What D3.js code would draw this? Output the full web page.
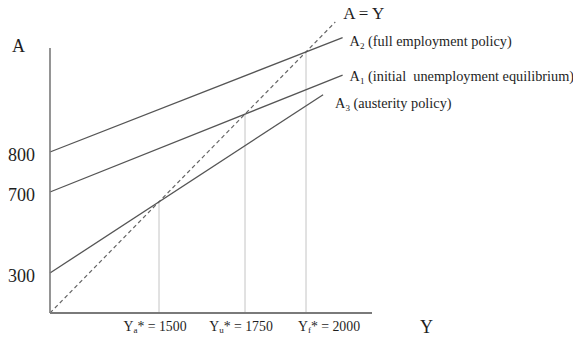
<!DOCTYPE html>
<html>
<head>
<meta charset="utf-8">
<script src="https://cdn.jsdelivr.net/npm/d3@7"></script>
<style>
  html, body { margin: 0; padding: 0; background: #fff; }
  svg { display: block; }
  text { font-family: "Liberation Serif", "Times New Roman", serif; fill: #1e1e1e; }
</style>
</head>
<body>
<svg id="chart" width="573" height="341"></svg>
<script>
// Aggregate demand schedules A = A0 + c·Y and their equilibria on the 45° line
const curveSubs = ["2", "1", "3"];
const curveDescs = ["(full employment policy)", "(initial  unemployment equilibrium)", "(austerity policy)"];
const intercepts = [800, 700, 300];
const equilibria = [2000, 1750, 1500];
const curveEnds = [2150, 2150, 2070];

// Axis ticks
const aTicks = [300, 700, 800];
const yTicks = [1500, 1750, 2000];
const yTickSubs = ["a", "u", "f"];
const diagonalEnd = 2120;

const svg = d3.select("#chart");

// The diagram is drawn schematically (not to scale), so the scales are piecewise
const x = d3.scaleLinear().domain([0, 1500, 1750, 2000]).range([50, 159, 245, 306]);
const aAxis = d3.scaleLinear().domain([0, 300, 700, 800]).range([313, 273, 192, 152]);
const originY = 313;
const diagSlope = 1.02;
// vertical position of points on the A = Y line
const diag = d3.scaleLinear().domain(x.domain())
  .range(x.range().map(px => originY - (px - x(0)) * diagSlope));

const g = svg.append("g");

// Guide lines from each equilibrium down to the Y axis
g.selectAll("line.guide").data(yTicks).join("line")
  .attr("class", "guide")
  .attr("x1", d => x(d)).attr("x2", d => x(d))
  .attr("y1", originY).attr("y2", d => diag(d))
  .attr("stroke", "#c4c4c4").attr("stroke-width", 1);

// 45° line A = Y
g.append("line")
  .attr("x1", x(0)).attr("y1", diag(0))
  .attr("x2", x(diagonalEnd)).attr("y2", diag(diagonalEnd))
  .attr("stroke", "#666").attr("stroke-width", 1.2)
  .attr("stroke-dasharray", "4,3");

svg.append("text")
  .attr("x", x(diagonalEnd) + 8).attr("y", diag(diagonalEnd) - 3)
  .attr("font-size", 17)
  .text("A = Y");

// Demand schedules: straight through the intercept and the equilibrium point
const curves = intercepts.map((a0, i) => {
  const p0 = [x(0), aAxis(a0)];
  const p1 = [x(equilibria[i]), diag(equilibria[i])];
  const slope = (p1[1] - p0[1]) / (p1[0] - p0[0]);
  const xe = x(curveEnds[i]);
  return { p0, end: [xe, p0[1] + slope * (xe - p0[0])], sub: curveSubs[i], desc: curveDescs[i] };
});

g.selectAll("line.curve").data(curves).join("line")
  .attr("class", "curve")
  .attr("x1", d => d.p0[0]).attr("y1", d => d.p0[1])
  .attr("x2", d => d.end[0]).attr("y2", d => d.end[1])
  .attr("stroke", "#555").attr("stroke-width", 1.3);

const labelOffsets = [[7, 8], [7, 6], [12, 13]];
const curveLabels = svg.selectAll("text.curve").data(curves).join("text")
  .attr("class", "curve")
  .attr("x", (d, i) => d.end[0] + labelOffsets[i][0])
  .attr("y", (d, i) => d.end[1] + labelOffsets[i][1])
  .attr("font-size", 14.3)
  .style("white-space", "pre");
curveLabels.append("tspan").text("A");
curveLabels.append("tspan").attr("font-size", 9).attr("dy", 3).text(d => d.sub);
curveLabels.append("tspan").attr("dy", -3).text(d => " " + d.desc);

// Axes
g.append("line")
  .attr("x1", x(0)).attr("y1", originY).attr("x2", x(0)).attr("y2", 48)
  .attr("stroke", "#7a7a7a").attr("stroke-width", 1.6);
g.append("line")
  .attr("x1", x(0)).attr("y1", originY).attr("x2", 372).attr("y2", originY)
  .attr("stroke", "#7a7a7a").attr("stroke-width", 2);

// A-axis tick labels
svg.selectAll("text.atick").data(aTicks).join("text")
  .attr("class", "atick")
  .attr("x", 35).attr("y", d => aAxis(d) + 9)
  .attr("text-anchor", "end")
  .attr("font-size", 18)
  .text(d => d);

// Y-axis tick labels
const xLabelShift = [-4, -4, 23];
const yl = svg.selectAll("text.ytick").data(yTicks).join("text")
  .attr("class", "ytick")
  .attr("x", (d, i) => x(d) + xLabelShift[i]).attr("y", 331)
  .attr("text-anchor", "middle")
  .attr("font-size", 13.8);
yl.append("tspan").text("Y");
yl.append("tspan").attr("font-size", 9).attr("dy", 2).text((d, i) => yTickSubs[i]);
yl.append("tspan").attr("dy", -2).text(d => "* = " + d);

// Axis titles
svg.append("text").attr("x", 12).attr("y", 52).attr("font-size", 18).text("A");
svg.append("text").attr("x", 420).attr("y", 333).attr("font-size", 18).text("Y");
</script>
</body>
</html>
